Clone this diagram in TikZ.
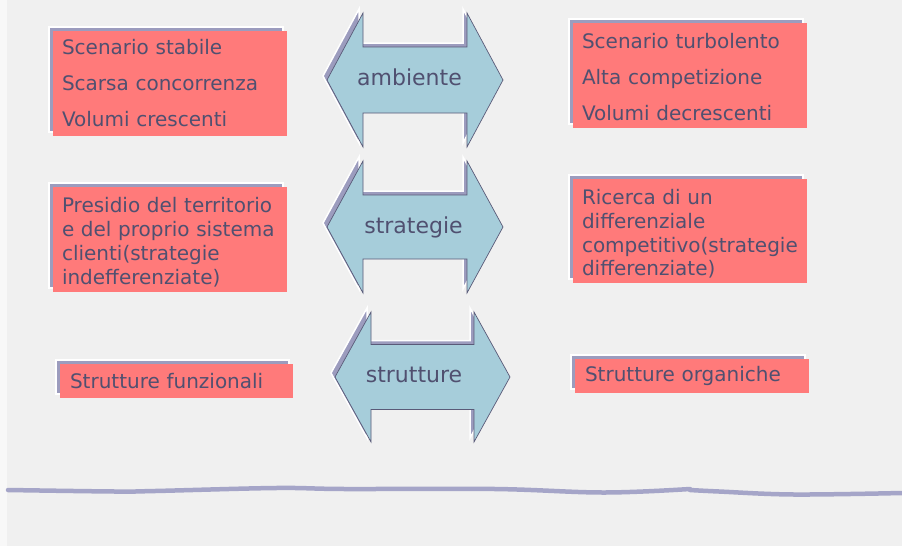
\documentclass[tikz,border=0pt]{standalone}
\usepackage{fontspec}
\setmainfont{DejaVu Sans}
\usetikzlibrary{shadows}
\definecolor{bg}{RGB}{240,240,240}
\definecolor{boxred}{RGB}{255,122,122}
\definecolor{shade}{RGB}{156,156,190}
\definecolor{arrowfill}{RGB}{166,205,218}
\definecolor{ink}{RGB}{80,80,112}
\definecolor{edge}{RGB}{90,90,120}
\definecolor{wave}{RGB}{165,165,200}
\newcommand\darrowpath[6]{(#1-#3,#2) -- (#1-#4,#2-#5) -- (#1-#4,#2-#6) -- (#1+#4,#2-#6) -- (#1+#4,#2-#5) -- (#1+#3,#2) -- (#1+#4,#2+#5) -- (#1+#4,#2+#6) -- (#1-#4,#2+#6) -- (#1-#4,#2+#5) -- cycle}
\tikzset{
  boxshadow/.style={general shadow={shadow xshift=-4pt, shadow yshift=4pt, fill=shade, draw=white, line width=1.5pt}},
  redbox/.style={fill=boxred, boxshadow, text=ink, align=left, inner ysep=0pt, inner xsep=9pt, text width=216pt, minimum height=105pt},
  smallbox/.style={redbox, inner xsep=10pt, text width=213pt, minimum height=34pt},
  arrowbody/.style={fill=arrowfill, draw=edge, line width=0.7pt, line join=miter,
    general shadow={shadow xshift=-4pt, shadow yshift=4pt, fill=shade, draw=white, line width=1.5pt}},
  arrowlabel/.style={text=ink, font=\fontsize{22}{26}\selectfont, anchor=base, inner sep=0pt},
  wideline/.style={font=\fontsize{20}{36}\selectfont},
  narrowline/.style={font=\fontsize{20}{23.8}\selectfont},
  waveline/.style={draw=wave, line width=4.5pt, line cap=round},
}
\begin{document}
\begin{tikzpicture}[x=1pt,y=-1pt]
\fill[bg] (0,0) rectangle (902,546);
\fill[white!50!bg] (0,0) rectangle (7,546);
\useasboundingbox (0,0) rectangle (902,546);

% boxes
\node[redbox, wideline] (b1) at (170,83.5) {Scenario stabile\\Scarsa concorrenza\\Volumi crescenti};
\node[redbox, wideline] (b2) at (690,75.5) {\rule{0pt}{18.5pt}Scenario turbolento\\Alta competizione\\Volumi decrescenti};
\node[redbox, narrowline] (b3) at (170,239.5) {\rule{0pt}{21pt}Presidio del territorio\\e del proprio sistema\\clienti(strategie\\indefferenziate)};
\node[redbox, narrowline, minimum height=104pt] (b4) at (690,231) {\rule{0pt}{21pt}Ricerca di un\\differenziale\\competitivo(strategie\\differenziate)};
\node[smallbox, narrowline] (b5) at (176.5,381) {Strutture funzionali};
\node[smallbox, narrowline, inner xsep=10pt, text width=214pt] (b6) at (692,376) {Strutture organiche};

% double arrows
\path[arrowbody] \darrowpath{415}{80}{88}{52}{67}{33};
\path[arrowbody] \darrowpath{415}{227}{88}{52}{66}{32};
\path[arrowbody] \darrowpath{422.5}{377}{87.5}{51.5}{65}{32.5};
\node[arrowlabel] (l1) at (409.5,85) {ambiente};
\node[arrowlabel] (l2) at (413.5,233) {strategie};
\node[arrowlabel] (l3) at (414,382) {strutture};

% wavy rule
\draw[waveline] plot[smooth, tension=0.6] coordinates {(8,490) (115,491.5) (155,491) (276,488) (345,489) (495,489) (604,492.5) (690,489)};
\draw[waveline] plot[smooth, tension=0.6] coordinates {(690,490) (719,491.5) (794,494.5) (902,493)};
\end{tikzpicture}
\end{document}
